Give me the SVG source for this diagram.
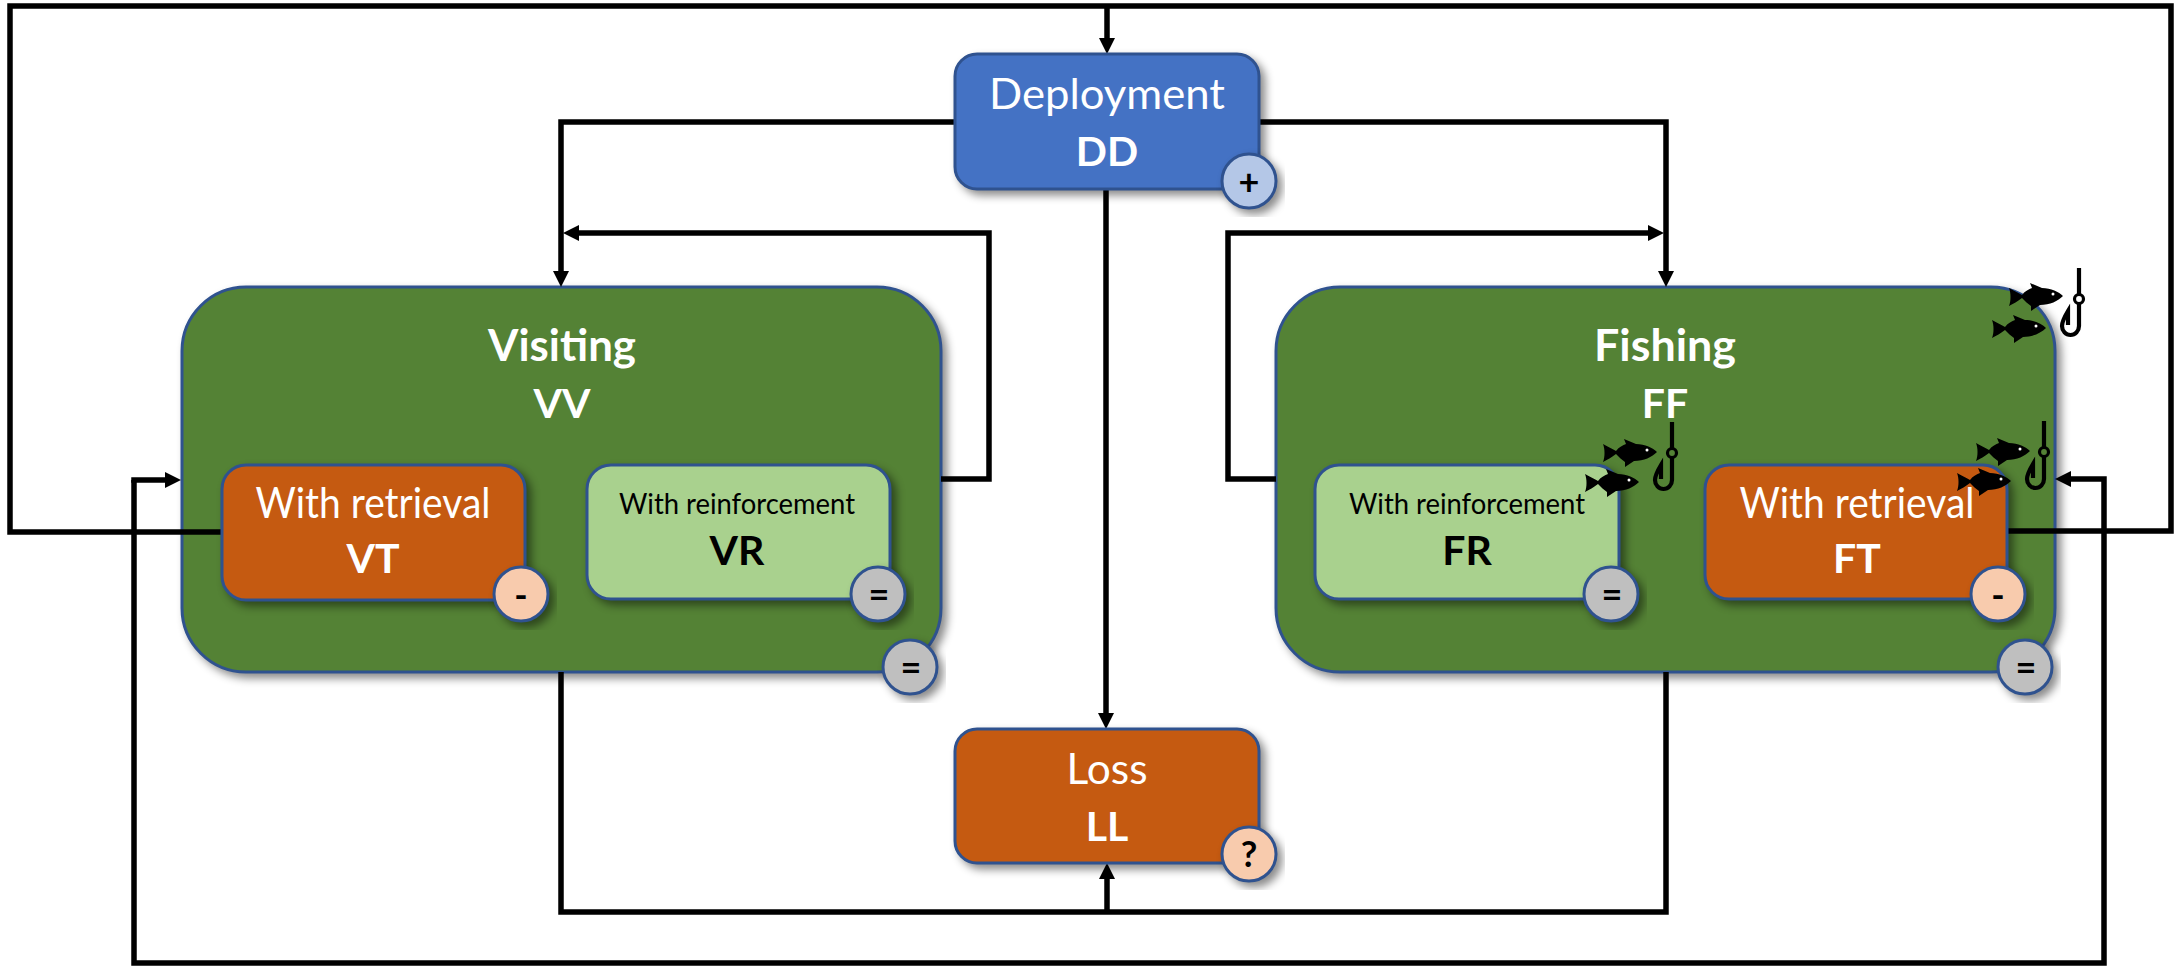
<svg xmlns="http://www.w3.org/2000/svg" width="2177" height="967" viewBox="0 0 2177 967">
<style>
text{font-family:Lato,"Liberation Sans",sans-serif;text-anchor:middle}
.w{fill:#fff}.k{fill:#000}.b{font-weight:700}
.t{font-size:43px}.c{font-size:41px;font-weight:700}.s{font-size:28px}.sym{font-size:36px;font-weight:700;fill:#000}
.box{stroke:#2F528F;stroke-width:3;filter:url(#sh)}
.blue{fill:#4472C4}.or{fill:#C55A11}.gr{fill:#548235}.lg{fill:#A9D18E}
.cp{fill:#B4C7E7}.co{fill:#F8CBAD}.cg{fill:#BFBFBF}
.ln{fill:none;stroke:#000;stroke-width:5.5}
.arr{marker-end:url(#ah)}
</style>
<defs>
<filter id="sh" x="-15%" y="-15%" width="130%" height="130%" color-interpolation-filters="sRGB"><feDropShadow dx="5" dy="5" stdDeviation="4" flood-color="#000" flood-opacity="0.45"/></filter>
<marker id="ah" markerUnits="userSpaceOnUse" markerWidth="16" markerHeight="16" refX="8" refY="8" orient="auto"><path d="M0,0L16,8L0,16z"/></marker>
<symbol id="fish" overflow="visible"><path d="M0,-8C4,-6 9,-3 13,-1C16,-5 20,-7 23,-8L21,-13L33,-8C42,-8 50,-4 54,0C49,5 41,9 31,9L22,15L22,10C19,8 16,5 13,2C9,5 4,8 0,10C2,5 2,-3 0,-8Z"/><circle cx="44" cy="-2" r="1.5" fill="#fff"/></symbol>
<symbol id="hook" overflow="visible"><path d="M0,-31V-4M0,4V27A8.5,9 0 0 1 -17,27C-17,22 -14,17 -11,12L-11,26" fill="none" stroke="#000" stroke-width="4.2"/><circle r="4.5" fill="none" stroke="#000" stroke-width="3.2"/></symbol>
</defs>

<g id="VV"><rect class="box gr" x="182" y="287" width="759" height="385" rx="64"/><text class="t b w" x="562" y="361" textLength="148" lengthAdjust="spacingAndGlyphs">Visiting</text><text class="c w" x="562" y="418">VV</text></g>
<g id="FF"><rect class="box gr" x="1276" y="287" width="779" height="385" rx="64"/><text class="t b w" x="1665" y="361" textLength="142" lengthAdjust="spacingAndGlyphs">Fishing</text><text class="c w" x="1665" y="418">FF</text></g>

<g id="connectors">
<path class="ln" d="M222,532H10V6H2171V531H2007"/>
<path class="ln arr" d="M1107,6V46"/>
<path class="ln arr" d="M955,122H561V279"/>
<path class="ln arr" d="M1259,122H1666V279"/>
<path class="ln arr" d="M941,479H989V233H571"/>
<path class="ln arr" d="M1276,479H1228V233H1656"/>
<path class="ln arr" d="M1106,189V721"/>
<path class="ln" d="M561,672V912H1666V672"/>
<path class="ln arr" d="M1107,912V871"/>
<path class="ln arr" d="M134,480V963H2104V479H2063"/>
<path class="ln arr" d="M131.25,480H173"/>
</g>

<g id="DD"><rect class="box blue" x="955" y="54" width="304" height="135" rx="22"/><text class="t w" x="1107" y="109" textLength="236" lengthAdjust="spacingAndGlyphs">Deployment</text><text class="c w" x="1107" y="166">DD</text><circle class="box cp" cx="1249" cy="181" r="27"/><text class="sym" x="1249" y="195">+</text></g>
<g id="LL"><rect class="box or" x="955" y="729" width="304" height="134" rx="22"/><text class="t w" x="1107" y="784" textLength="81" lengthAdjust="spacingAndGlyphs">Loss</text><text class="c w" x="1107" y="841">LL</text><circle class="box co" cx="1249" cy="854" r="27"/><text class="sym" x="1249" y="867">?</text></g>
<g id="VT"><rect class="box or" x="222" y="465" width="303" height="135" rx="24"/><text class="t w" x="373" y="518" textLength="235" lengthAdjust="spacingAndGlyphs">With retrieval</text><text class="c w" x="373" y="573">VT</text><circle class="box co" cx="521" cy="594" r="27"/><text class="sym" x="521" y="608">-</text></g>
<g id="VR"><rect class="box lg" x="587" y="465" width="303" height="134" rx="24"/><text class="s k" x="737" y="514" textLength="236" lengthAdjust="spacingAndGlyphs">With reinforcement</text><text class="c k" x="737" y="565">VR</text><circle class="box cg" cx="878" cy="594" r="27"/><text class="sym" x="879" y="607">=</text></g>
<g id="VVc"><circle class="box cg" cx="910" cy="667" r="27"/><text class="sym" x="911" y="680">=</text></g>
<g id="FR"><rect class="box lg" x="1315" y="465" width="304" height="134" rx="24"/><text class="s k" x="1467" y="514" textLength="236" lengthAdjust="spacingAndGlyphs">With reinforcement</text><text class="c k" x="1467" y="565">FR</text><circle class="box cg" cx="1611" cy="594" r="27"/><text class="sym" x="1612" y="607">=</text></g>
<g id="FT"><rect class="box or" x="1705" y="465" width="302" height="134" rx="24"/><text class="t w" x="1857" y="518" textLength="235" lengthAdjust="spacingAndGlyphs">With retrieval</text><text class="c w" x="1857" y="573">FT</text><circle class="box co" cx="1998" cy="594" r="27"/><text class="sym" x="1998" y="608">-</text></g>
<g id="FFc"><circle class="box cg" cx="2025" cy="667" r="27"/><text class="sym" x="2026" y="680">=</text></g>

<g id="fish-hooks">
<use href="#fish" x="2009" y="296"/><use href="#fish" x="1992" y="328"/><use href="#hook" x="2079" y="299"/>
<use href="#fish" x="1603" y="452"/><use href="#fish" x="1585" y="482"/><use href="#hook" x="1672" y="453"/>
<use href="#fish" x="1976" y="451"/><use href="#fish" x="1957" y="481"/><use href="#hook" x="2044" y="452"/>
</g>
</svg>
